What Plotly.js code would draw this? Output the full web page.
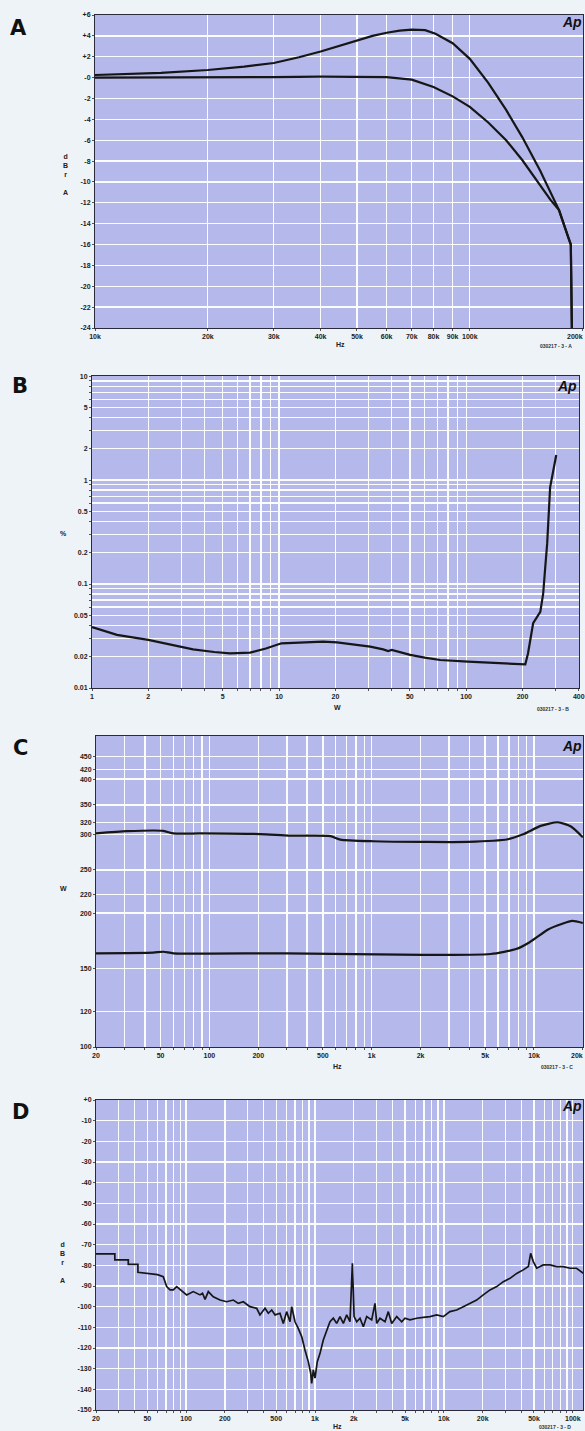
<!DOCTYPE html>
<html>
<head>
<meta charset="utf-8">
<script src="https://cdn.plot.ly/plotly-3.0.1.min.js"></script>
<style>
html,body{margin:0;padding:0;background:#eef3f7;}
#chart{width:585px;height:1431px;}
</style>
</head>
<body>
<div id="chart"></div>
<script>
// ---------- Panel A: frequency response (dBr A) ----------
const aFreqUpper = [10000,15000,20000,25000,30000,35000,40000,45000,50000,55000,60000,65000,70000,76000,81000,90000,100000,112000,125000,138000,154000,164000,173000,183000,186000,187500];
const aUpper     = [0.25,0.45,0.73,1.05,1.4,1.95,2.5,3.05,3.6,4.0,4.3,4.5,4.6,4.55,4.2,3.3,1.8,-0.5,-3.1,-5.7,-8.9,-10.9,-12.7,-15.3,-16.0,-26];
const aFreqLower = [10000,20000,30000,40000,50000,60000,70000,80000,90000,100000,112000,125000,138000,154000,164000,173000,183000,186000,187500];
const aLower     = [0.0,0.0,0.05,0.1,0.1,0.05,-0.2,-0.9,-1.8,-2.8,-4.3,-6.0,-7.9,-10.3,-11.7,-12.7,-15.3,-16.0,-26];
const aXTicks = [10000,20000,30000,40000,50000,60000,70000,80000,90000,100000,200000];
const aXText  = ["10k","20k","30k","40k","50k","60k","70k","80k","90k","100k","200k"];
const aYTicks = [6,4,2,0,-2,-4,-6,-8,-10,-12,-14,-16,-18,-20,-22,-24];
const aYText  = ["+6","+4","+2","-0","-2","-4","-6","-8","-10","-12","-14","-16","-18","-20","-22","-24"];

// ---------- Panel B: THD+N (%) vs power (W) ----------
const bPower = [1,1.36,2.0,2.7,3.47,4.5,5.47,7.0,8.5,10.3,13,17.2,20.4,25,30.7,36,38.3,40,50.2,60,72.6,102,146,190,207,214,222,228,249,258,265,271,281,292,303];
const bThd   = [0.0386,0.0324,0.029,0.026,0.0235,0.0222,0.0215,0.0219,0.024,0.0269,0.0272,0.0279,0.0275,0.0262,0.025,0.0235,0.0227,0.0232,0.0208,0.0196,0.0186,0.0179,0.0173,0.017,0.0169,0.0215,0.032,0.042,0.054,0.081,0.15,0.246,0.85,1.25,1.74];
const bXLabels = [1,2,5,10,20,50,100,200,400];
const bYLabels = [0.01,0.02,0.05,0.1,0.2,0.5,1,2,5,10];

// ---------- Panel C: power (W) vs frequency ----------
const cFreqUpper = [20,31,52,60,88,206,315,556,641,1025,2090,3900,6890,8650,11000,14000,16900,20000];
const cUpper     = [302,305.5,306,302,302,301,298.5,297.9,292.5,290,289,289,293,301,314,320,313,296];
const cFreqLower = [20,45,52,60,300,2090,5400,7750,9400,12300,14800,17200,20000];
const cLower     = [162.4,163,163.7,162.4,162.4,161,161.8,166,172,184,189,192,190];
const cXLabels = [20,50,100,200,500,1000,2000,5000,10000,20000];
const cXText   = ["20","50","100","200","500","1k","2k","5k","10k","20k"];
const cYTicks  = [100,120,150,200,220,250,300,320,350,400,420,450];

// ---------- Panel D: FFT spectrum (dBr A) ----------
const dFreq  = [20,28,28,35.6,35.6,42.3,42.3,52.5,60,66.5,70.7,75,79.6,84.5,95.1,101,113.7,128.2,134,140.3,148.7,162.6,183.3,206.5,232.4,254,278,313,353,374,409.6,434.5,461.5,490,535,567.6,602.8,640,659.6,699.7,741.5,788.6,836,887,926,942,971,1000,1042,1094,1160,1233,1307,1387,1473,1563,1659,1762,1868,1950,2010,2108,2234,2372,2518,2753,2920,3013,3192,3492,3706,3935,4305,4708,4989,5459,6150,6920,7800,8790,9890,11140,12560,14140,15930,17950,20200,22800,25700,28900,32600,36700,41300,45200,47100,49400,52500,59000,66500,75000,84400,95100,107000,120800];
const dLevel = [-74.5,-74.5,-77.4,-77.4,-79.5,-79.5,-83.4,-83.9,-84.5,-85.5,-90.3,-91.9,-91.9,-90.3,-92.7,-94.3,-92.7,-94.3,-93.5,-96.5,-92.7,-95.2,-96.8,-97.6,-96.8,-98.4,-97.6,-100,-100.8,-104,-100.8,-103.2,-101.6,-104,-103.2,-108.1,-102.4,-107.3,-100,-107.3,-110.5,-114.5,-121,-126.6,-132.2,-137.1,-130.6,-134.6,-126.6,-122.6,-116.1,-111.3,-107.3,-105.6,-108.1,-104.8,-108.1,-104,-107.3,-79,-104.8,-107.3,-105.6,-109.7,-104.8,-106.4,-98.4,-108.1,-105.6,-107.3,-102.4,-108.1,-104.8,-107.3,-105.6,-106.4,-105.6,-105.2,-104.8,-104,-104.8,-102.4,-101.6,-100,-98.4,-96.8,-94.3,-91.9,-90.3,-87.9,-86.3,-83.9,-82.2,-80.6,-74.2,-78.2,-81.4,-79.8,-79.8,-80.6,-80.6,-81.4,-81.4,-83.9];
const dXLabels = [20,50,100,200,500,1000,2000,5000,10000,20000,50000,100000];
const dXText   = ["20","50","100","200","500","1k","2k","5k","10k","20k","50k","100k"];
const dYTicks  = [0,-10,-20,-30,-40,-50,-60,-70,-80,-90,-100,-110,-120,-130,-140,-150];
const dYText   = ["+0","-10","-20","-30","-40","-50","-60","-70","-80","-90","-100","-110","-120","-130","-140","-150"];

// ---------- helpers ----------
const W = 585, H = 1431;
function dom(x0, x1, y0, y1){ return {x:[x0/W, x1/W], y:[1 - y1/H, 1 - y0/H]}; }
function logGrid(lo, hi){
  const out = [];
  for (let e = Math.floor(Math.log10(lo)); e <= Math.ceil(Math.log10(hi)); e++){
    for (let m = 1; m <= 9; m++){
      const v = m * Math.pow(10, e);
      if (v >= lo*0.999 && v <= hi*1.001) out.push(+v.toPrecision(6));
    }
  }
  return out;
}
function labelled(grid, labels, texts){
  return grid.map(v => {
    const i = labels.findIndex(l => Math.abs(l - v) / l < 1e-6);
    return i >= 0 ? (texts ? texts[i] : String(labels[i])) : "";
  });
}

const tickFont = {family:"Liberation Sans, Arial, sans-serif", size:7, color:"#222", weight:"bold"};
const gridCol = "rgba(255,255,255,0.95)";
function axisBase(extra){
  return Object.assign({
    showgrid:true, gridcolor:gridCol, gridwidth:1.3,
    zeroline:false, showline:true, mirror:true, linecolor:"#2a2a3a", linewidth:1,
    ticks:"outside", ticklen:2, tickcolor:"#555", tickfont:tickFont,
    automargin:false, fixedrange:true
  }, extra);
}

const dA = dom(95, 583, 15, 328);
const dB = dom(92, 579, 376, 688);
const dC = dom(96, 583, 736, 1047);
const dD = dom(96, 583, 1100, 1410);

const bXGrid = logGrid(1, 400);
const bYGrid = logGrid(0.01, 10);
const cXGrid = logGrid(20, 20000);
const dXGrid = logGrid(20, 120000);

const lineStyle = {color:"#161616", width:2.2};

const traces = [
  {x:aFreqUpper, y:aUpper, xaxis:"x", yaxis:"y", mode:"lines", line:lineStyle, hoverinfo:"skip"},
  {x:aFreqLower, y:aLower, xaxis:"x", yaxis:"y", mode:"lines", line:lineStyle, hoverinfo:"skip"},
  {x:bPower, y:bThd, xaxis:"x2", yaxis:"y2", mode:"lines", line:lineStyle, hoverinfo:"skip"},
  {x:cFreqUpper, y:cUpper, xaxis:"x3", yaxis:"y3", mode:"lines", line:{color:"#161616", width:2.2, shape:"spline", smoothing:0.6}, hoverinfo:"skip"},
  {x:cFreqLower, y:cLower, xaxis:"x3", yaxis:"y3", mode:"lines", line:{color:"#161616", width:2.2, shape:"spline", smoothing:0.6}, hoverinfo:"skip"},
  {x:dFreq, y:dLevel, xaxis:"x4", yaxis:"y4", mode:"lines", line:{color:"#161616", width:1.7}, hoverinfo:"skip"}
];

function px(x){ return x / W; }
function py(y){ return 1 - y / H; }
function ann(text, x, y, opts){
  return Object.assign({text, x:px(x), y:py(y), xref:"paper", yref:"paper", showarrow:false,
    xanchor:"center", yanchor:"middle",
    font:{family:"Liberation Sans, Arial, sans-serif", size:7, color:"#222", weight:"bold"}}, opts||{});
}
const bigFont = {family:"DejaVu Sans, Liberation Sans, sans-serif", size:21, color:"#111", weight:"bold"};
const apFont = {family:"Liberation Sans, Arial, sans-serif", size:14, color:"#111", weight:"bold", style:"italic"};
const smallFont = {family:"Liberation Sans, Arial, sans-serif", size:5, color:"#333", weight:"bold"};
const yTitleFont = {family:"Liberation Sans, Arial, sans-serif", size:7, color:"#222", weight:"bold"};

// Right-edge tick labels (Plotly hides labels that would overflow the page edge),
// right-aligned to the page edge so they stay fully visible
function edgeLabel(text, yPix){
  return ann(text, 584.5, yPix, {xanchor:"right", font:tickFont});
}

const annotations = [
  ann("A", 18, 28, {font:bigFont}),
  ann("B", 20, 386, {font:bigFont}),
  ann("C", 20, 748, {font:bigFont}),
  ann("D", 20, 1112, {font:bigFont}),
  ann("Ap", 572, 22, {font:apFont}),
  ann("Ap", 567, 386, {font:apFont}),
  ann("Ap", 572, 746, {font:apFont}),
  ann("Ap", 572, 1106, {font:apFont}),
  ann("d<br>B<br>r<br><br>A", 65, 174, {font:yTitleFont}),
  ann("d<br>B<br>r<br><br>A", 62, 1262, {font:yTitleFont}),
  ann("%", 63, 533),
  ann("W", 63, 888),
  ann("Hz", 340, 344),
  ann("W", 338, 707),
  ann("Hz", 338, 1066),
  ann("Hz", 338, 1426),
  ann("030217 - 3 - A", 556, 346, {font:smallFont}),
  ann("030217 - 3 - B", 553, 709, {font:smallFont}),
  ann("030217 - 3 - C", 557, 1067, {font:smallFont}),
  ann("030217 - 3 - D", 555, 1427, {font:smallFont}),
  edgeLabel(aXText[aXText.length-1], 336),
  edgeLabel(cXText[cXText.length-1], 1055)
];

const layout = {
  width:W, height:H, margin:{l:0,r:0,t:0,b:0},
  paper_bgcolor:"#eef3f7", plot_bgcolor:"#b4b8ea",
  showlegend:false,
  xaxis: axisBase({type:"log", domain:dA.x, anchor:"y", range:[4, Math.log10(200000)+0.001], tickmode:"array", tickvals:aXTicks, ticktext:aXText}),
  yaxis: axisBase({domain:dA.y, anchor:"x", range:[-24, 6], tickmode:"array", tickvals:aYTicks, ticktext:aYText}),
  xaxis2: axisBase({type:"log", domain:dB.x, anchor:"y2", range:[0, Math.log10(400)+0.001], tickmode:"array", tickvals:bXGrid, ticktext:labelled(bXGrid, bXLabels)}),
  yaxis2: axisBase({type:"log", domain:dB.y, anchor:"x2", range:[-2, 1.001], tickmode:"array", tickvals:bYGrid, ticktext:labelled(bYGrid, bYLabels)}),
  xaxis3: axisBase({type:"log", domain:dC.x, anchor:"y3", range:[Math.log10(20), Math.log10(20000)+0.001], tickmode:"array", tickvals:cXGrid, ticktext:labelled(cXGrid, cXLabels, cXText)}),
  yaxis3: axisBase({type:"log", domain:dC.y, anchor:"x3", range:[2, Math.log10(500)], tickmode:"array", tickvals:cYTicks, ticktext:cYTicks.map(String)}),
  xaxis4: axisBase({type:"log", domain:dD.x, anchor:"y4", range:[Math.log10(20), Math.log10(120000)], tickmode:"array", tickvals:dXGrid, ticktext:labelled(dXGrid, dXLabels, dXText)}),
  yaxis4: axisBase({domain:dD.y, anchor:"x4", range:[-150, 0], tickmode:"array", tickvals:dYTicks, ticktext:dYText}),
  annotations
};

Plotly.newPlot("chart", traces, layout, {staticPlot:true, displayModeBar:false});
</script>
</body>
</html>
